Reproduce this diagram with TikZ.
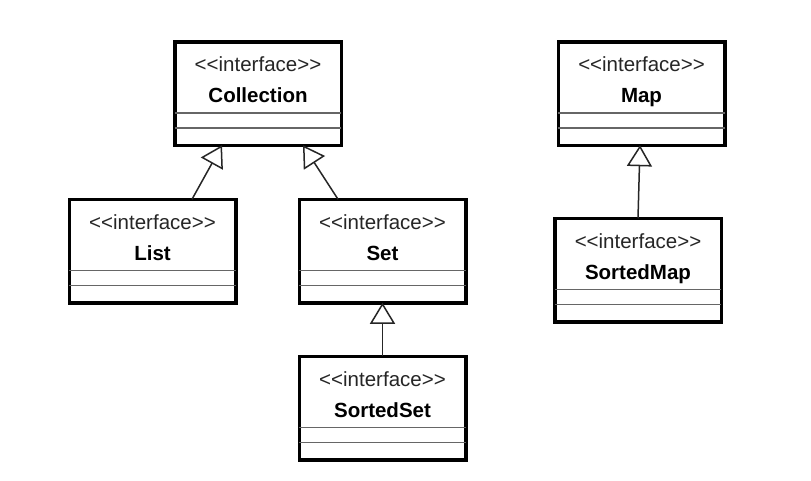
\documentclass[tikz,border=0pt]{standalone}
\usepackage{fontspec}
\setmainfont{Liberation Sans}
\usetikzlibrary{arrows.meta,calc}
\tikzset{
  umlbox/.style={draw=black, line width=3.5pt, fill=white, minimum width=166.5pt, minimum height=103.5pt, inner sep=0pt, outer sep=0pt},
  stereo/.style={font=\fontsize{20.5}{22}\selectfont, text=black!85, anchor=base, inner sep=0pt},
  cname/.style={font=\fontsize{20.5}{22}\selectfont\bfseries, anchor=base, inner sep=0pt},
  sepline/.style={draw=black!60, line width=1.8pt},
  gen/.style={draw=black!85, line width=1.5pt, -{Triangle[length=21pt, width=25pt, fill=white]}}
}
\newcommand{\ifacebox}[4]{%
  \node[umlbox] (#1) at (#2,#3) {};
  \node[stereo] (#1-s) at ($(#1.north)+(0,30)$) {<{}<interface>{}>};
  \node[cname] (#1-n) at ($(#1.north)+(0,61)$) {#4};
  \draw[sepline] ($(#1.north west)+(0,71.3)$) -- ($(#1.north east)+(0,71.3)$);
  \draw[sepline] ($(#1.north west)+(0,86.3)$) -- ($(#1.north east)+(0,86.3)$);
}
\begin{document}
\begin{tikzpicture}[x=1pt, y=-1pt]
  \fill[white] (0,0) rectangle (811,480);
  \useasboundingbox (0,0) rectangle (811,480);
  \ifacebox{coll}{258}{93.5}{Collection}
  \ifacebox{list}{152.5}{251}{List}
  \ifacebox{set}{382.5}{251}{Set}
  \ifacebox{sset}{382.5}{408}{SortedSet}
  \ifacebox{map}{641.5}{93.5}{Map}
  \ifacebox{smap}{638}{270}{SortedMap}
  \draw[gen] ($(list.north)+(39.5,0)$) -- ($(coll.south)+(-36,0)$);
  \draw[gen] ($(set.north)+(-44.5,0)$) -- ($(coll.south)+(45,0)$);
  \draw[gen] (sset.north) -- (set.south);
  \draw[gen] (smap.north) -- ($(map.south)+(-1.5,0)$);
\end{tikzpicture}
\end{document}
